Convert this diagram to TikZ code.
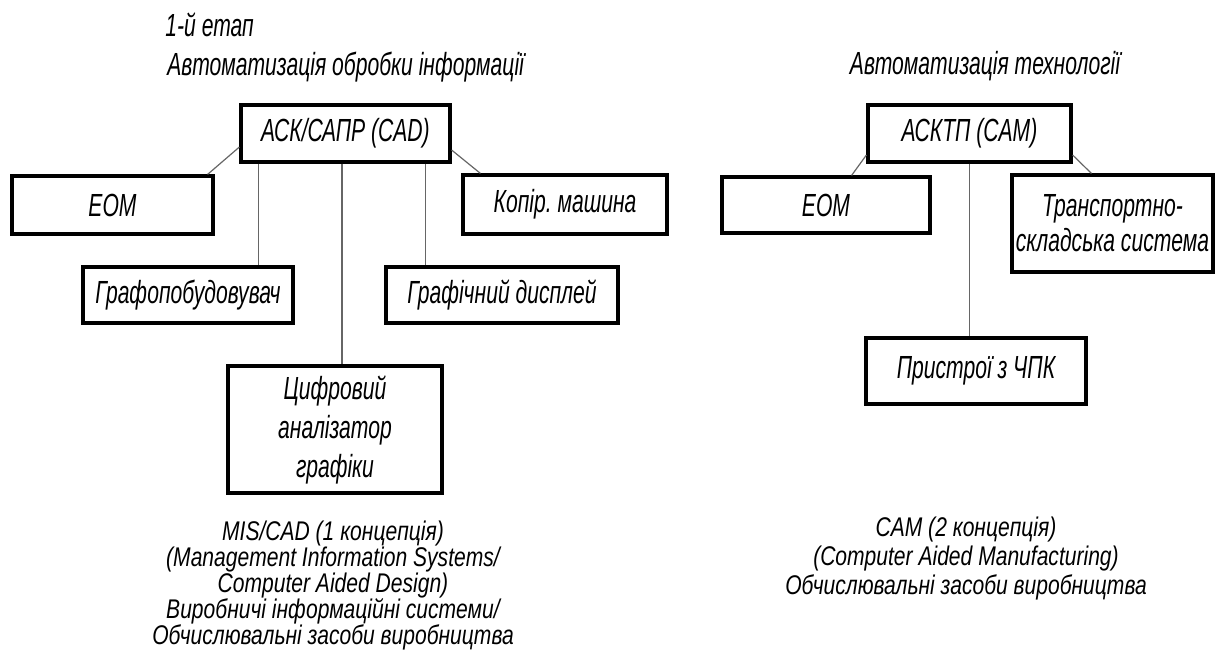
\documentclass[tikz,border=0pt]{standalone}
\usepackage{fontspec}
\setmainfont{Liberation Sans}[FakeStretch=0.66]
\newfontfamily\capfont{Liberation Sans}[FakeStretch=0.78]
\usetikzlibrary{calc}
\newcommand\tightls{\lineskiplimit=-20pt\relax\lineskip=0pt\relax}
\begin{document}
\begin{tikzpicture}[x=0.5pt,y=-0.5pt,
  box/.style={draw=black,line width=1.6pt,rectangle,inner sep=0pt,align=center,
    font=\fontsize{16}{19.5}\selectfont\itshape},
  conn/.style={draw=black!60,line width=0.6pt},
  lbl/.style={inner sep=0pt,font=\fontsize{16}{17}\selectfont\itshape},
  caption/.style={inner sep=0pt,align=center}]
\useasboundingbox (0,0) rectangle (1215,664);
% headings
\node[lbl,anchor=west] (stage) at (165,25) {1-й етап};
\node[lbl,anchor=west] (head1) at (167,67) {Автоматизація обробки інформації};
\node[lbl] (head2) at (985,66) {Автоматизація технології};
% left tree
\node[box,minimum width=104.5pt,minimum height=28.5pt] (ask) at (345.5,133.5) {АСК/САПР (CAD)};
\node[box,minimum width=100.5pt,minimum height=29pt] (eom1) at (112.5,205) {ЕОМ};
\node[box,minimum width=102pt,minimum height=29.5pt] (kopir) at (565,204.5) {Копір.\ машина};
\node[box,minimum width=105pt,minimum height=28pt] (grafo) at (188,295) {Графопобудовувач};
\node[box,minimum width=116pt,minimum height=28pt] (grafd) at (502,295) {Графічний дисплей};
\node[box,minimum width=107pt,minimum height=63.5pt] (cyfr) at (335,429.5) {Цифровий\\аналізатор\\графіки};
\draw[conn] ([yshift=-6.75pt]ask.west) -- ([xshift=-3.5pt]eom1.north east);
\draw[conn] ([yshift=-8.25pt]ask.east) -- ([xshift=9.5pt]kopir.north west);
\draw[conn] ([xshift=9.5pt]ask.south west) coordinate (t1) -- (t1 |- grafo.north);
\draw[conn] ([xshift=-1.75pt]ask.south) coordinate (t2) -- (t2 |- cyfr.north);
\draw[conn] ([xshift=-13pt]ask.south east) coordinate (t3) -- (t3 |- grafd.north);
\node[caption,font=\capfont\fontsize{13.5}{13}\selectfont\itshape\tightls] (cap1) at (333,586)
  {MIS/CAD (1 концепція)\\(Management Information Systems/\\Computer Aided Design)\\Виробничі інформаційні системи/\\Обчислювальні засоби виробництва};
% right tree
\node[box,minimum width=101.5pt,minimum height=28.5pt] (asktp) at (969.5,133.5) {АСКТП (CAM)};
\node[box,minimum width=104pt,minimum height=28pt] (eom2) at (826,205) {ЕОМ};
\node[box,minimum width=100.5pt,minimum height=48.5pt,font=\fontsize{16}{17.5}\selectfont\itshape] (trans) at (1112.5,223.5) {Транспортно-\\складська система};
\node[box,minimum width=110pt,minimum height=33pt] (prystr) at (976,371) {Пристрої з ЧПК};
\draw[conn] ([yshift=-10.75pt]asktp.west) -- ([xshift=-40pt]eom2.north east);
\draw[conn] ([yshift=-10.75pt]asktp.east) -- ([xshift=40.5pt]trans.north west);
\draw[conn] (asktp.south) -- (asktp.south |- prystr.north);
\node[caption,font=\capfont\fontsize{13.5}{14.5}\selectfont\itshape\tightls] (cap2) at (966,559)
  {CAM (2 концепція)\\(Computer Aided Manufacturing)\\Обчислювальні засоби виробництва};
\end{tikzpicture}
\end{document}
